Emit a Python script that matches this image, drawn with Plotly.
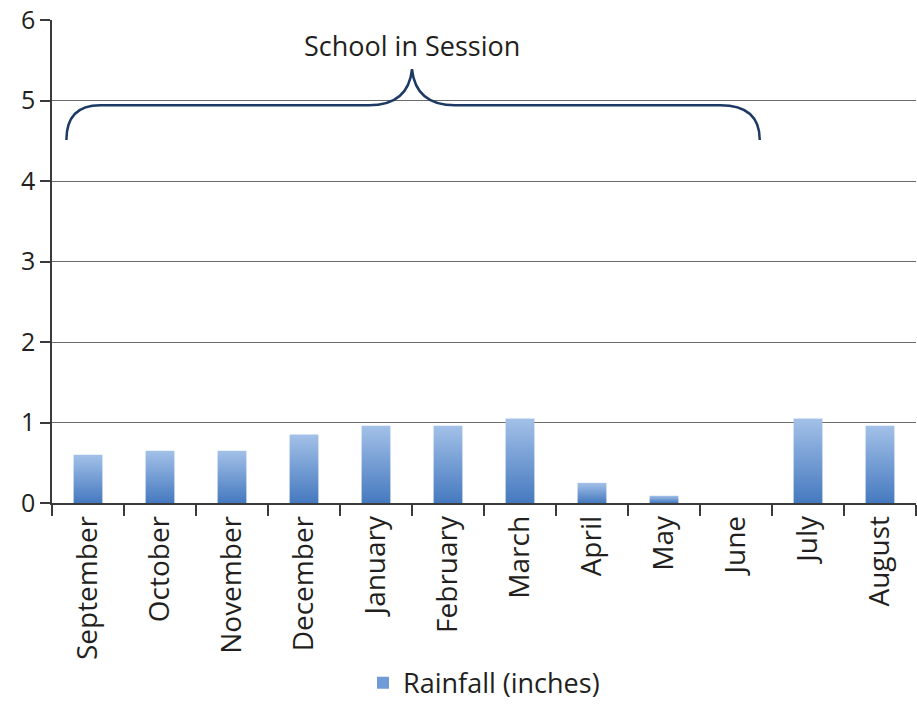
import plotly.graph_objects as go

MONTHS = ["September", "October", "November", "December", "January", "February",
          "March", "April", "May", "June", "July", "August"]
RAINFALL = [0.60, 0.65, 0.65, 0.85, 0.96, 0.96, 1.05, 0.25, 0.09, 0.0, 1.05, 0.96]
Y_TICKS = [0, 1, 2, 3, 4, 5, 6]
SERIES_NAME = "Rainfall (inches)"
BRACE_LABEL = "School in Session"

TEXT = "#231f20"
BAR_TOP = "#a3c1e8"
BAR_BOTTOM = "#4579bf"
BAR_MID = "#6f9bd6"
BRACE = "#1c3a63"
GRID = "#6b6b6b"
AXIS = "#3a3a3a"
FONT = "Open Sans"

HALF_W = 0.2  # half bar width, in category units

fig = go.Figure()

# Bars drawn as filled polygons so they can carry a vertical gradient
for i, (month, val) in enumerate(zip(MONTHS, RAINFALL)):
    fig.add_trace(go.Scatter(
        x=[i - HALF_W, i - HALF_W, i + HALF_W, i + HALF_W, i - HALF_W],
        y=[0, val, val, 0, 0],
        mode="none",
        fill="toself",
        fillgradient=dict(
            type="vertical",
            colorscale=[[0, BAR_BOTTOM], [1, BAR_TOP]],
        ),
        name=SERIES_NAME,
        legendgroup="rain",
        showlegend=False,
        hovertemplate=f"{month}: %{{y:.2f}} in<extra></extra>",
    ))

# legend entry only (square swatch like the original)
fig.add_trace(go.Bar(
    x=[None], y=[None], name=SERIES_NAME, legendgroup="rain",
    marker=dict(color=BAR_MID, line=dict(width=0)),
))

# Curly brace over the school months (September..June)
brace_path = (
    "M -0.30,4.51 Q -0.30,4.94 0.17,4.94 L 3.90,4.94 "
    "Q 4.45,4.94 4.50,5.39 Q 4.55,4.94 5.10,4.94 "
    "L 8.78,4.94 Q 9.33,4.94 9.33,4.51"
)
fig.add_shape(type="path", path=brace_path, xref="x", yref="y",
              line=dict(color=BRACE, width=2.5))

fig.add_annotation(
    x=4.5, y=5.68, text=BRACE_LABEL, showarrow=False,
    font=dict(family=FONT, size=27, color=TEXT),
)

fig.update_layout(
    width=917,
    height=710,
    margin=dict(l=52, r=1, t=20, b=207, pad=0),
    paper_bgcolor="white",
    plot_bgcolor="white",
    font=dict(family=FONT, color=TEXT),
    showlegend=True,
    legend=dict(
        orientation="h",
        x=0.5, xanchor="center",
        y=-0.424, yanchor="bottom",
        font=dict(size=27, color=TEXT),
        itemwidth=30,
    ),
    xaxis=dict(
        range=[-0.5, 11.5],
        tickmode="array",
        tickvals=list(range(len(MONTHS))),
        ticktext=MONTHS,
        tickangle=-90,
        ticks="",
        tickfont=dict(size=28, color=TEXT),
        showgrid=False,
        zeroline=False,
        showline=True,
        linecolor=AXIS,
        linewidth=1.5,
        minor=dict(tick0=-0.5, dtick=1, ticks="outside", ticklen=11,
                   tickwidth=1.5, tickcolor=AXIS, showgrid=False),
        automargin=False,
        fixedrange=True,
    ),
    yaxis=dict(
        range=[0, 6],
        tickmode="array",
        tickvals=Y_TICKS,
        ticks="outside",
        ticklen=10,
        tickwidth=1.5,
        tickcolor=AXIS,
        tickfont=dict(size=25, color=TEXT),
        showgrid=True,
        gridcolor=GRID,
        gridwidth=1.2,
        zeroline=False,
        showline=True,
        linecolor=AXIS,
        linewidth=1.5,
        automargin=False,
        fixedrange=True,
    ),
)

# drop the browser's default 8px body margin so the figure fills the window
fig.write_html(
    "out.html",
    config={"displayModeBar": False},
    post_script="document.body.style.margin='0';",
)
